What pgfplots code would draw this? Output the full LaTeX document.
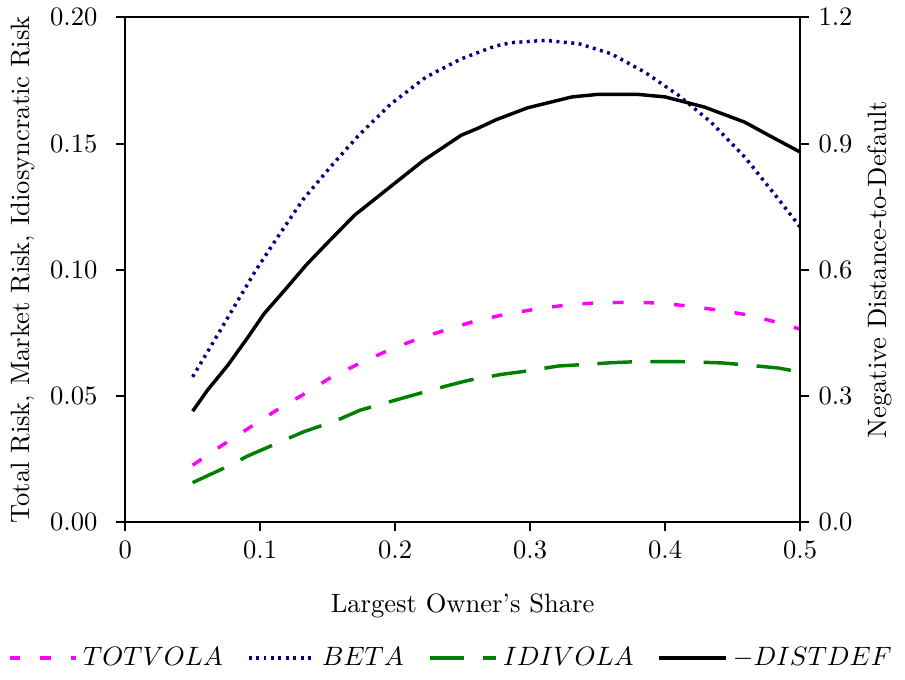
\documentclass[border=0pt]{standalone}
\usepackage{pgfplots}
\pgfplotsset{compat=1.18}
\definecolor{cmag}{RGB}{255,0,255}
\definecolor{cnavy}{RGB}{0,0,128}
\definecolor{cgreen}{RGB}{0,128,0}
\pgfplotsset{
  magstyle/.style={cmag, line width=1.3pt, dash pattern=on 4pt off 7.5pt},
  navstyle/.style={cnavy, line width=1.3pt, dash pattern=on 1.1pt off 1.7pt},
  grnstyle/.style={cgreen, line width=1.3pt, dash pattern=on 13pt off 7pt},
  blkstyle/.style={black, line width=1.3pt},
  myaxis/.style={
    scale only axis, width=254pt, height=190pt,
    xmin=0, xmax=0.5,
    axis line style={line width=0.8pt},
    tick style={line width=0.8pt, black},
    major tick length=3.4pt,
    tick align=outside,
  },
  legend image code/.code={\draw[#1] (0cm,0cm) -- (25pt,0cm);},
}
\begin{document}
\begin{tikzpicture}
\begin{axis}[myaxis,
  ymin=0, ymax=0.2,
  ytick={0,0.05,0.1,0.15,0.2},
  xtick={0,0.1,0.2,0.3,0.4,0.5},
  xticklabels={0,0.1,0.2,0.3,0.4,0.5},
  yticklabel style={xshift=-3.5pt, /pgf/number format/.cd, fixed, fixed zerofill, precision=2},
  xtick pos=bottom, ytick pos=left,
  xlabel={Largest Owner's Share},
  xlabel style={yshift=-6pt},
  ylabel={Total Risk, Market Risk, Idiosyncratic Risk},
  ylabel style={yshift=-1pt},
]
\addplot[magstyle] coordinates {
(0.05,0.0226) (0.071,0.0302) (0.091,0.0371) (0.111,0.0440) (0.131,0.0503)
(0.151,0.0569) (0.173,0.0628) (0.195,0.0681) (0.217,0.0727) (0.239,0.0764)
(0.261,0.0800) (0.285,0.0827) (0.306,0.0846) (0.329,0.0862) (0.352,0.0870)
(0.373,0.0871) (0.395,0.0869) (0.418,0.0856) (0.44,0.0840) (0.463,0.0820)
(0.485,0.0789) (0.5,0.0765)
};
\addplot[navstyle] coordinates {
(0.05,0.0576) (0.069,0.0747) (0.085,0.0892) (0.097,0.1000) (0.113,0.1130)
(0.132,0.1280) (0.152,0.1407) (0.173,0.1533) (0.197,0.1658) (0.223,0.1764)
(0.249,0.1836) (0.274,0.1886) (0.286,0.1900) (0.311,0.1909) (0.336,0.1896)
(0.360,0.1856) (0.385,0.1783) (0.410,0.1691) (0.434,0.1585) (0.459,0.1447)
(0.484,0.1280) (0.5,0.1170)
};
\addplot[grnstyle] coordinates {
(0.05,0.0157) (0.075,0.0219) (0.091,0.0263) (0.116,0.0321) (0.132,0.0358)
(0.157,0.0404) (0.174,0.0444) (0.197,0.0479) (0.215,0.0506) (0.238,0.0540)
(0.254,0.0562) (0.279,0.0586) (0.296,0.0598) (0.321,0.0619) (0.337,0.0624)
(0.360,0.0632) (0.378,0.0636) (0.402,0.0636) (0.417,0.0636) (0.443,0.0631)
(0.458,0.0624) (0.484,0.0611) (0.5,0.0595)
};
\end{axis}
\begin{axis}[myaxis,
  ymin=0, ymax=1.2,
  ytick={0,0.3,0.6,0.9,1.2},
  yticklabel style={/pgf/number format/.cd, fixed, fixed zerofill, precision=1},
  axis x line=none,
  axis y line*=right,
  ylabel={Negative Distance-to-Default},
  ylabel style={yshift=1pt},
  legend columns=4,
  legend style={draw=none, fill=none, at={(0.485,-0.225)}, anchor=north, font=\normalsize,
    /tikz/every even column/.append style={column sep=7pt}},
]
\addlegendimage{magstyle}
\addlegendentry{$TOTVOLA$}
\addlegendimage{navstyle}
\addlegendentry{$BETA$}
\addlegendimage{grnstyle}
\addlegendentry{$IDIVOLA$}
\addplot[blkstyle] coordinates {
(0.05,0.264) (0.061,0.314) (0.076,0.373) (0.091,0.440) (0.103,0.496)
(0.118,0.551) (0.134,0.611) (0.148,0.658) (0.170,0.730) (0.190,0.781)
(0.221,0.860) (0.249,0.920) (0.261,0.936) (0.275,0.957) (0.298,0.985)
(0.331,1.011) (0.350,1.017) (0.380,1.017) (0.400,1.011) (0.429,0.987)
(0.459,0.951) (0.479,0.916) (0.5,0.880)
};
\addlegendentry{$-DISTDEF$}
\end{axis}
\end{tikzpicture}
\end{document}
